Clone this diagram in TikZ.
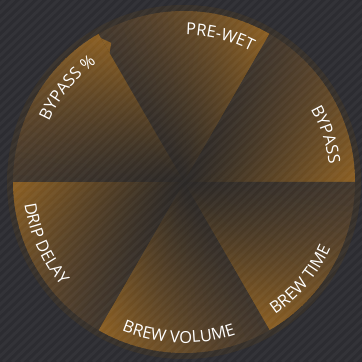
\documentclass[tikz,border=0pt]{standalone}
\usepackage{fontspec}
\newfontfamily\lblfont{Open Sans}
\usetikzlibrary{decorations.text,fadings}
\definecolor{bgc}{HTML}{2C2C31}
\definecolor{diskc}{HTML}{3A332C}
\definecolor{bright}{HTML}{AE7322}
\definecolor{dimend}{HTML}{4A3C2F}
\definecolor{hubc}{HTML}{2B2826}
\tikzfading[name=centerfade, inner color=transparent!0, outer color=transparent!100]
\newcommand\lblfmt{\lblfont\fontsize{16.5}{18}\selectfont}
\begin{document}
\begin{tikzpicture}[x=1pt,y=1pt,
  lbl/.style={decorate, decoration={text along path, text color=white, text align=center, text={#1}}}]
\fill[bgc] (0,0) rectangle (362,362);
\useasboundingbox (0,0) rectangle (362,362);
\coordinate (C) at (184,180);
\fill[diskc] (C) circle (177);
% wedges with angular gradient
\begin{scope}[shift={(C)}]
\foreach \k in {0,...,5}{
  \foreach \i in {0,...,29}{
    \pgfmathsetmacro\aa{60-60*\k+2*\i}
    \pgfmathsetmacro\st{\aa-0.4*(\i>0)}
    \pgfmathsetmacro\en{\aa+2}
    \pgfmathsetmacro\pp{100*(1-(\i+0.5)/30)^1.1}
    \fill[bright!\pp!dimend] (0,0) -- (\st:171) arc[start angle=\st, end angle=\en, radius=171] -- cycle;
  }
  \pgfmathsetmacro\ab{60-60*\k}
  \pgfmathsetmacro\ac{\ab-2.4}
  \fill[bright] (\ab:149) -- (\ab:166) -- (\ac:157) -- cycle;
}
\end{scope}
% dark hub
\begin{scope}
\clip (C) circle (177);
\fill[hubc, path fading=centerfade] (C) circle (230);
\end{scope}
% stripes
\begin{scope}
\clip (0,0) rectangle (362,362);
\foreach \s in {-420,-411,...,380} \draw[white, opacity=0.035, line width=3pt] (\s,0) -- ++(440,420);
\end{scope}
% labels
\begin{scope}[shift={(C)}]
\path[lbl={|\lblfmt|PRE-WET}] (106:147) arc[start angle=106, end angle=46, radius=147];
\path[lbl={|\lblfmt|BYPASS}] (48:146) arc[start angle=48, end angle=-11, radius=146];
\path[lbl={|\lblfmt|BYPASS {\%}}] (171:148) arc[start angle=171, end angle=111, radius=148];
\path[lbl={|\lblfmt|BREW TIME}] (-70:161) arc[start angle=-70, end angle=-10, radius=161];
\path[lbl={|\lblfmt|BREW VOLUME}] (-122:161) arc[start angle=-122, end angle=-62, radius=161];
\path[lbl={|\lblfmt|DRIP DELAY}] (174:161) arc[start angle=174, end angle=234, radius=161];
\end{scope}
\end{tikzpicture}
\end{document}
